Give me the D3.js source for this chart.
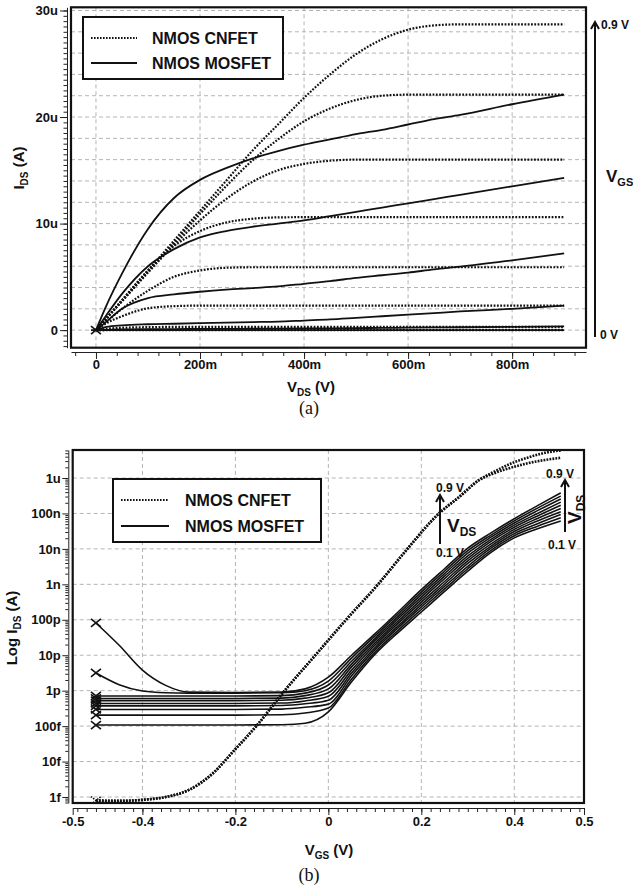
<!DOCTYPE html>
<html>
<head>
<meta charset="utf-8">
<script src="https://cdn.jsdelivr.net/npm/d3@7"></script>
<style>
body { margin: 0; background: #fff; }
svg text { font-family: "Liberation Sans", Arial, sans-serif; font-weight: bold; fill: #111; }
svg text.cap { font-family: "Liberation Serif", "Times New Roman", serif; font-weight: normal; }
.grid line { stroke: #b4b4b4; stroke-width: 1; stroke-dasharray: 4,3; }
.axis path, .axis line { stroke: #222; stroke-width: 1; }
</style>
</head>
<body>
<svg id="fig" width="633" height="888"></svg>
<script>
// ---------- (a) I-V output curves, VDS sweep ----------
var vdsPts = [0, 0.02, 0.05, 0.1, 0.15, 0.2, 0.25, 0.3, 0.35, 0.4, 0.45, 0.5, 0.55, 0.6, 0.65, 0.7, 0.8, 0.9];

// CNFET drain current (uA), one row per VGS step, top to bottom
var cnfetIds = [
  [0, 1.1, 2.8, 5.6, 8.4, 11.2, 14.0, 16.8, 19.3, 21.8, 24.0, 25.9, 27.3, 28.2, 28.6, 28.7, 28.7, 28.7],
  [0, 1.1, 2.75, 5.5, 8.2, 10.9, 13.5, 15.9, 17.9, 19.6, 20.8, 21.6, 22.0, 22.1, 22.1, 22.1, 22.1, 22.1],
  [0, 1.1, 2.7, 5.4, 8.0, 10.3, 12.3, 13.9, 15.0, 15.6, 15.9, 16.0, 16.0, 16.0, 16.0, 16.0, 16.0, 16.0],
  [0, 1.1, 2.8, 5.6, 7.9, 9.3, 10.1, 10.45, 10.58, 10.6, 10.6, 10.6, 10.6, 10.6, 10.6, 10.6, 10.6, 10.6],
  [0, 0.8, 2.0, 3.7, 5.0, 5.6, 5.85, 5.9, 5.9, 5.9, 5.9, 5.9, 5.9, 5.9, 5.9, 5.9, 5.9, 5.9],
  [0, 0.65, 1.3, 2.05, 2.25, 2.3, 2.3, 2.3, 2.3, 2.3, 2.3, 2.3, 2.3, 2.3, 2.3, 2.3, 2.3, 2.3],
  [0, 0.12, 0.22, 0.28, 0.3, 0.3, 0.3, 0.3, 0.3, 0.3, 0.3, 0.3, 0.3, 0.3, 0.3, 0.3, 0.3, 0.3],
  [0, 0.01, 0.02, 0.03, 0.03, 0.03, 0.03, 0.03, 0.03, 0.03, 0.03, 0.03, 0.03, 0.03, 0.03, 0.03, 0.03, 0.03],
  [0, 0, 0, 0, 0, 0, 0, 0, 0, 0, 0, 0, 0, 0, 0, 0, 0, 0]
];

// MOSFET drain current (uA)
var mosIds = [
  [0, 2.3, 5.3, 9.5, 12.4, 14.1, 15.2, 16.1, 16.8, 17.4, 17.9, 18.4, 18.8, 19.3, 19.8, 20.2, 21.2, 22.1],
  [0, 1.4, 3.4, 6.0, 7.6, 8.7, 9.3, 9.7, 10.0, 10.3, 10.7, 11.1, 11.5, 11.9, 12.3, 12.7, 13.5, 14.3],
  [0, 0.8, 2.0, 3.0, 3.35, 3.6, 3.8, 3.95, 4.1, 4.35, 4.6, 4.9, 5.15, 5.4, 5.7, 5.95, 6.55, 7.2],
  [0, 0.3, 0.45, 0.55, 0.6, 0.65, 0.7, 0.75, 0.8, 0.9, 1.0, 1.15, 1.3, 1.45, 1.6, 1.75, 2.0, 2.3],
  [0, 0.03, 0.06, 0.09, 0.1, 0.11, 0.12, 0.13, 0.14, 0.15, 0.17, 0.19, 0.21, 0.23, 0.25, 0.27, 0.31, 0.35],
  [0, 0, 0, 0, 0, 0, 0, 0, 0, 0, 0, 0, 0, 0, 0, 0, 0, 0]
];

var idsTicks = [0, 10, 20, 30];
var idsTickLabels = ["0", "10u", "20u", "30u"];
var vdsTicks = [0, 0.2, 0.4, 0.6, 0.8];
var vdsTickLabels = ["0", "200m", "400m", "600m", "800m"];

// ---------- (b) transfer curves, VGS sweep (log10 of amps) ----------
var mosVgs = [-0.5, -0.45, -0.4, -0.35, -0.3, -0.2, -0.1, -0.05, 0, 0.05, 0.1, 0.15, 0.2, 0.25, 0.3, 0.35, 0.4, 0.45, 0.5];
var mosLogI = [
  [-12.97, -12.97, -12.97, -12.97, -12.97, -12.97, -12.96, -12.92, -12.60, -11.75, -10.98, -10.36, -9.78, -9.20, -8.63, -8.10, -7.69, -7.43, -7.21],
  [-12.69, -12.69, -12.69, -12.69, -12.69, -12.69, -12.68, -12.63, -12.49, -11.67, -10.92, -10.30, -9.71, -9.13, -8.56, -8.04, -7.63, -7.36, -7.12],
  [-12.53, -12.53, -12.53, -12.53, -12.53, -12.53, -12.52, -12.47, -12.38, -11.58, -10.85, -10.23, -9.64, -9.06, -8.49, -7.98, -7.57, -7.29, -7.03],
  [-12.43, -12.43, -12.43, -12.43, -12.43, -12.43, -12.42, -12.37, -12.27, -11.50, -10.79, -10.17, -9.57, -8.99, -8.41, -7.92, -7.51, -7.21, -6.95],
  [-12.36, -12.36, -12.36, -12.36, -12.36, -12.36, -12.35, -12.29, -12.16, -11.42, -10.72, -10.10, -9.50, -8.92, -8.34, -7.86, -7.45, -7.14, -6.86],
  [-12.28, -12.28, -12.28, -12.28, -12.28, -12.28, -12.27, -12.21, -12.06, -11.33, -10.66, -10.04, -9.43, -8.84, -8.27, -7.79, -7.39, -7.07, -6.77],
  [-12.22, -12.22, -12.22, -12.22, -12.22, -12.22, -12.21, -12.14, -11.95, -11.25, -10.59, -9.97, -9.36, -8.77, -8.20, -7.73, -7.33, -7.00, -6.68],
  [-12.15, -12.15, -12.15, -12.15, -12.15, -12.15, -12.14, -12.07, -11.84, -11.17, -10.53, -9.91, -9.29, -8.70, -8.12, -7.67, -7.27, -6.92, -6.59],
  [-11.50, -11.83, -12.01, -12.06, -12.07, -12.07, -12.06, -12.00, -11.73, -11.08, -10.46, -9.84, -9.22, -8.63, -8.05, -7.61, -7.21, -6.85, -6.51],
  [-10.09, -10.72, -11.42, -11.85, -12.04, -12.05, -12.04, -11.95, -11.62, -11.00, -10.40, -9.78, -9.15, -8.56, -7.98, -7.55, -7.15, -6.78, -6.42]
];

var cntVgs = [-0.5, -0.45, -0.4, -0.35, -0.3, -0.25, -0.2, -0.155, -0.094, -0.028, 0.038, 0.107, 0.17, 0.238, 0.281, 0.324, 0.36, 0.395, 0.43, 0.466, 0.5];
var cntLogHigh = [-15.1, -15.11, -15.08, -15.0, -14.8, -14.35, -13.65, -13.0, -12.0, -11.0, -10.0, -9.0, -8.0, -7.0, -6.54, -6.06, -5.8, -5.58, -5.42, -5.29, -5.22];
var cntLogLow = [-15.1, -15.11, -15.08, -15.0, -14.8, -14.35, -13.65, -13.0, -12.0, -11.0, -10.0, -9.0, -8.0, -7.0, -6.54, -6.06, -5.85, -5.7, -5.58, -5.49, -5.43];

var logTicks = [1e-15, 1e-14, 1e-13, 1e-12, 1e-11, 1e-10, 1e-9, 1e-8, 1e-7, 1e-6];
var logTickLabels = ["1f", "10f", "100f", "1p", "10p", "100p", "1n", "10n", "100n", "1u"];
var vgsTicks = [-0.55, -0.4, -0.2, 0, 0.2, 0.4, 0.55];
var vgsTickLabels = ["-0.5", "-0.4", "-0.2", "0", "0.2", "0.4", "0.5"];
var vgsGrid = [-0.4, -0.2, 0, 0.2, 0.4];

var svg = d3.select("#fig");
var defs = svg.append("defs");

// text with a subscript: [main, sub, tail]
function subText(g, x, y, parts, size, subSize, anchor, rot) {
  var t = g.append("text")
    .attr("x", x).attr("y", y)
    .attr("text-anchor", anchor || "start")
    .style("font-size", size + "px");
  if (rot) t.attr("transform", "rotate(" + rot + "," + x + "," + y + ")");
  t.append("tspan").text(parts[0]);
  t.append("tspan").style("font-size", subSize + "px").attr("dy", subSize * 0.35).text(parts[1]);
  if (parts[2]) t.append("tspan").attr("dy", -subSize * 0.35).text(parts[2]);
  return t;
}

function arrowUp(x, yTop, yBot) {
  svg.append("line").attr("x1", x).attr("x2", x).attr("y1", yBot).attr("y2", yTop + 1)
    .attr("stroke", "#111").attr("stroke-width", 2);
  svg.append("path")
    .attr("d", "M" + (x - 4) + "," + (yTop + 7) + "L" + x + "," + yTop + "L" + (x + 4) + "," + (yTop + 7))
    .attr("fill", "none").attr("stroke", "#111").attr("stroke-width", 2);
}

function xMark(g, px, py, dash) {
  g.append("path")
    .attr("d", "M" + (px - 5) + "," + (py - 4) + "L" + (px + 5) + "," + (py + 4) +
               "M" + (px - 5) + "," + (py + 4) + "L" + (px + 5) + "," + (py - 4))
    .attr("fill", "none").attr("stroke", "#111").attr("stroke-width", 1.6)
    .attr("stroke-dasharray", dash || null);
}

function legend(x, y, w, h, sx0, sx1, tx, rows) {
  svg.append("rect").attr("x", x).attr("y", y).attr("width", w).attr("height", h)
    .attr("fill", "#fff").attr("stroke", "#111").attr("stroke-width", 2);
  rows.forEach(function (r) {
    svg.append("line").attr("x1", sx0).attr("x2", sx1).attr("y1", r.y).attr("y2", r.y)
      .attr("stroke", "#111").attr("stroke-width", 1.8)
      .attr("stroke-dasharray", r.dotted ? "1.6,1.4" : null);
    svg.append("text").attr("x", tx).attr("y", r.y + 6).style("font-size", "16px").text(r.label);
  });
}

// ================= chart (a) =================
var fA = { x0: 71, x1: 586, y0: 7.3, y1: 347.7 };
var xA = d3.scaleLinear().domain([-0.048, 0.942]).range([fA.x0, fA.x1]);
var yA = d3.scaleLinear().domain([-1.65, 30.3]).range([fA.y1, fA.y0]);

defs.append("clipPath").attr("id", "clipA").append("rect")
  .attr("x", fA.x0).attr("y", fA.y0).attr("width", fA.x1 - fA.x0).attr("height", fA.y1 - fA.y0);

var gridA = svg.append("g").attr("class", "grid");
gridA.selectAll(".h").data(d3.range(0, 31, 2)).enter().append("line")
  .attr("x1", fA.x0).attr("x2", fA.x1)
  .attr("y1", function (d) { return yA(d); }).attr("y2", function (d) { return yA(d); });
gridA.selectAll(".v").data(vdsTicks).enter().append("line")
  .attr("y1", fA.y0).attr("y2", fA.y1)
  .attr("x1", function (d) { return xA(d); }).attr("x2", function (d) { return xA(d); });

// axes (a)
svg.append("g").attr("class", "axis").attr("transform", "translate(67,0)")
  .call(d3.axisLeft(yA).tickValues(d3.range(-1.5, 30.3, 0.5)).tickSize(3.5).tickSizeOuter(0).tickFormat(""));
svg.append("g").attr("class", "axis").attr("transform", "translate(67,0)")
  .call(d3.axisLeft(yA).tickValues(idsTicks).tickSize(7).tickSizeOuter(0).tickPadding(2)
    .tickFormat(function (d, i) { return idsTickLabels[i]; }))
  .call(function (g) { g.select(".domain").remove(); })
  .selectAll("text").style("font-size", "13px").attr("fill", "#111");

svg.append("g").attr("class", "axis").attr("transform", "translate(0,352)")
  .call(d3.axisBottom(xA).tickValues(d3.range(-1, 24).map(function (i) { return i * 0.04; }))
    .tickSize(4).tickSizeOuter(0).tickFormat(""));
svg.append("g").attr("class", "axis").attr("transform", "translate(0,352)")
  .call(d3.axisBottom(xA).tickValues(vdsTicks).tickSize(7).tickSizeOuter(0).tickPadding(1)
    .tickFormat(function (d, i) { return vdsTickLabels[i]; }))
  .call(function (g) { g.select(".domain").remove(); })
  .selectAll("text").style("font-size", "13px").attr("fill", "#111");

var lineA = d3.line()
  .x(function (d) { return xA(d[0]); })
  .y(function (d) { return yA(d[1]); })
  .curve(d3.curveMonotoneX);

var plotA = svg.append("g").attr("clip-path", "url(#clipA)");
plotA.selectAll(".mos").data(mosIds).enter().append("path")
  .attr("d", function (row) { return lineA(row.map(function (v, i) { return [vdsPts[i], v]; })); })
  .attr("fill", "none").attr("stroke", "#111").attr("stroke-width", 1.8);
plotA.selectAll(".cnt").data(cnfetIds).enter().append("path")
  .attr("d", function (row) { return lineA(row.map(function (v, i) { return [vdsPts[i], v]; })); })
  .attr("fill", "none").attr("stroke", "#111").attr("stroke-width", 2.2)
  .attr("stroke-dasharray", "1.8,1.5");
xMark(plotA, xA(vdsPts[0]), yA(mosIds[0][0]));
plotA.append("line").attr("x1", xA(vdsPts[0]) - 5).attr("x2", xA(vdsPts[0]) + 5)
  .attr("y1", yA(0)).attr("y2", yA(0)).attr("stroke", "#111").attr("stroke-width", 1.6);

svg.append("rect").attr("x", fA.x0).attr("y", fA.y0)
  .attr("width", fA.x1 - fA.x0).attr("height", fA.y1 - fA.y0)
  .attr("fill", "none").attr("stroke", "#111").attr("stroke-width", 2.2);

legend(83, 17, 200, 62, 91, 137, 152, [
  { y: 38, label: "NMOS CNFET", dotted: true },
  { y: 63, label: "NMOS MOSFET", dotted: false }
]);

// titles (a)
subText(svg, 24, 168, ["I", "DS", " (A)"], 15, 10, "middle", -90);
subText(svg, 311, 392, ["V", "DS", " (V)"], 15, 10, "middle");
svg.append("text").attr("class", "cap").attr("x", 309).attr("y", 414)
  .attr("text-anchor", "middle").style("font-size", "18px").text("(a)");

// VGS annotation (a)
arrowUp(595, 22, 337);
svg.append("text").attr("x", 601).attr("y", 29).style("font-size", "12px").text("0.9 V");
svg.append("text").attr("x", 600).attr("y", 339).style("font-size", "12px").text("0 V");
subText(svg, 606, 182, ["V", "GS"], 17, 11);

// ================= chart (b) =================
var fB = { x0: 72.7, x1: 584, y0: 450, y1: 803 };
var xB = d3.scaleLinear().domain([-0.55, 0.55]).range([fB.x0, fB.x1]);
var yB = d3.scaleLog().domain([6.77e-16, 6.17e-6]).range([fB.y1, fB.y0]);

defs.append("clipPath").attr("id", "clipB").append("rect")
  .attr("x", fB.x0).attr("y", fB.y0).attr("width", fB.x1 - fB.x0).attr("height", fB.y1 - fB.y0);

var gridB = svg.append("g").attr("class", "grid");
gridB.selectAll(".h").data(logTicks).enter().append("line")
  .attr("x1", fB.x0).attr("x2", fB.x1)
  .attr("y1", function (d) { return yB(d); }).attr("y2", function (d) { return yB(d); });
gridB.selectAll(".v").data(vgsGrid).enter().append("line")
  .attr("y1", fB.y0).attr("y2", fB.y1)
  .attr("x1", function (d) { return xB(d); }).attr("x2", function (d) { return xB(d); });

// axes (b)
var minorLog = [];
d3.range(-16, -5).forEach(function (e) {
  d3.range(2, 10).forEach(function (m) {
    var v = m * Math.pow(10, e);
    if (v > 6.77e-16 && v < 6.17e-6) minorLog.push(v);
  });
});
svg.append("g").attr("class", "axis").attr("transform", "translate(68.3,0)")
  .call(d3.axisLeft(yB).tickValues(minorLog).tickSize(3).tickSizeOuter(0).tickFormat(""));
svg.append("g").attr("class", "axis").attr("transform", "translate(68.3,0)")
  .call(d3.axisLeft(yB).tickValues(logTicks).tickSize(6).tickSizeOuter(0).tickPadding(1.5)
    .tickFormat(function (d, i) { return logTickLabels[i]; }))
  .call(function (g) { g.select(".domain").remove(); })
  .selectAll("text").style("font-size", "13px").attr("fill", "#111");

svg.append("g").attr("class", "axis").attr("transform", "translate(0,808)")
  .call(d3.axisBottom(xB).tickValues(d3.range(-27, 28).map(function (i) { return i * 0.02; }))
    .tickSize(4).tickSizeOuter(0).tickFormat(""));
svg.append("g").attr("class", "axis").attr("transform", "translate(0,808)")
  .call(d3.axisBottom(xB).tickValues(vgsTicks).tickSize(7).tickSizeOuter(0).tickPadding(2)
    .tickFormat(function (d, i) { return vgsTickLabels[i]; }))
  .call(function (g) { g.select(".domain").remove(); })
  .selectAll("text").style("font-size", "13px").attr("fill", "#111");

var lineB = d3.line()
  .x(function (d) { return xB(d[0]); })
  .y(function (d) { return yB(Math.pow(10, d[1])); })
  .curve(d3.curveMonotoneX);

var plotB = svg.append("g").attr("clip-path", "url(#clipB)");
plotB.selectAll(".mos").data(mosLogI).enter().append("path")
  .attr("d", function (row) { return lineB(row.map(function (v, i) { return [mosVgs[i], v]; })); })
  .attr("fill", "none").attr("stroke", "#111").attr("stroke-width", 1.6);
mosLogI.forEach(function (row) {
  xMark(plotB, xB(mosVgs[0]), yB(Math.pow(10, row[0])));
});
[cntLogLow, cntLogHigh].forEach(function (row) {
  plotB.append("path")
    .attr("d", lineB(row.map(function (v, i) { return [cntVgs[i], v]; })))
    .attr("fill", "none").attr("stroke", "#111").attr("stroke-width", 2.6)
    .attr("stroke-dasharray", "1.8,1.2");
});
xMark(plotB, xB(cntVgs[0]), yB(Math.pow(10, cntLogHigh[0])), "1.5,1.2");

svg.append("rect").attr("x", fB.x0).attr("y", fB.y0)
  .attr("width", fB.x1 - fB.x0).attr("height", fB.y1 - fB.y0)
  .attr("fill", "none").attr("stroke", "#111").attr("stroke-width", 2.2);

legend(113, 479, 208, 63, 121, 169, 185, [
  { y: 500, label: "NMOS CNFET", dotted: true },
  { y: 526, label: "NMOS MOSFET", dotted: false }
]);

// titles (b)
subText(svg, 17, 628, ["Log I", "DS", " (A)"], 15, 10, "middle", -90);
subText(svg, 329, 855, ["V", "GS", " (V)"], 15, 10, "middle");
svg.append("text").attr("class", "cap").attr("x", 309).attr("y", 881)
  .attr("text-anchor", "middle").style("font-size", "18px").text("(b)");

// VDS annotations (b)
arrowUp(440, 495, 544);
svg.append("text").attr("x", 436).attr("y", 492).style("font-size", "12px").text("0.9 V");
svg.append("text").attr("x", 436).attr("y", 557).style("font-size", "12px").text("0.1 V");
subText(svg, 447, 532, ["V", "DS"], 19, 12);

arrowUp(565, 480, 532);
svg.append("text").attr("x", 546).attr("y", 478).style("font-size", "12px").text("0.9 V");
svg.append("text").attr("x", 548).attr("y", 549).style("font-size", "12px").text("0.1 V");
subText(svg, 581, 524, ["V", "DS"], 19, 12, "start", -90);
</script>
</body>
</html>
